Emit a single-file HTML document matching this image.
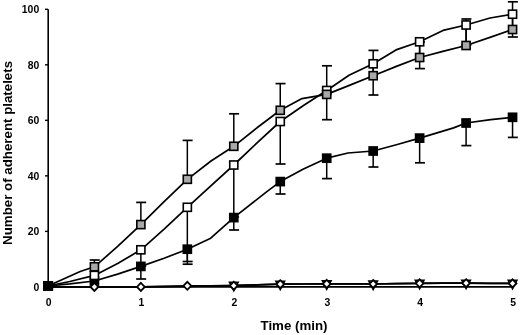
<!DOCTYPE html><html><head><meta charset="utf-8"><style>html,body{margin:0;padding:0;background:#fff;width:520px;height:335px;overflow:hidden}svg{display:block}text{font-family:"Liberation Sans",Arial,sans-serif;font-weight:bold;fill:#000}</style></head><body>
<svg width="520" height="335" viewBox="0 0 520 335">
<g stroke="#000" stroke-width="1.6" fill="none">
<path d="M48.2,9.3 V286.9 H512.6"/>
<path d="M45,286.90 H48" stroke-width="1.4"/>
<path d="M45,231.38 H48" stroke-width="1.4"/>
<path d="M45,175.86 H48" stroke-width="1.4"/>
<path d="M45,120.34 H48" stroke-width="1.4"/>
<path d="M45,64.82 H48" stroke-width="1.4"/>
<path d="M45,9.30 H48" stroke-width="1.4"/>
</g>
<g font-size="10.4" text-anchor="end">
<text x="39.2" y="290.60">0</text>
<text x="39.2" y="235.08">20</text>
<text x="39.2" y="179.56">40</text>
<text x="39.2" y="124.04">60</text>
<text x="39.2" y="68.52">80</text>
<text x="39.2" y="13.00">100</text>
</g>
<g font-size="10.4" text-anchor="middle">
<text x="48.55" y="306">0</text>
<text x="141.47" y="306">1</text>
<text x="234.39" y="306">2</text>
<text x="327.31" y="306">3</text>
<text x="420.23" y="306">4</text>
<text x="513.15" y="306">5</text>
</g>
<text x="294" y="329.5" font-size="13.3" text-anchor="middle">Time (min)</text>
<text transform="translate(12.3,152.9) rotate(-90)" font-size="13.3" text-anchor="middle">Number of adherent platelets</text>
<g stroke="#000" stroke-width="1.5" fill="none">
<path d="M94.41,266.80 V260.00"/><path d="M89.71,260.00 H99.71" stroke-width="1.7"/>
<path d="M140.87,224.60 V202.40"/><path d="M136.17,202.40 H146.17" stroke-width="1.7"/>
<path d="M187.33,179.30 V140.40"/><path d="M182.63,140.40 H192.63" stroke-width="1.7"/>
<path d="M233.79,146.30 V113.80"/><path d="M229.09,113.80 H239.09" stroke-width="1.7"/>
<path d="M280.25,110.30 V83.60"/><path d="M275.55,83.60 H285.55" stroke-width="1.7"/>
<path d="M326.71,94.40 V65.80"/><path d="M322.01,65.80 H332.01" stroke-width="1.7"/>
<path d="M373.17,75.70 V50.40"/><path d="M368.47,50.40 H378.47" stroke-width="1.7"/>
<path d="M419.63,57.50 V42.00"/><path d="M414.93,42.00 H424.93" stroke-width="1.7"/>
<path d="M466.09,45.50 V19.00"/><path d="M461.39,19.00 H471.39" stroke-width="1.7"/>
<path d="M512.55,29.50 V1.80"/><path d="M507.85,1.80 H517.85" stroke-width="1.7"/>
<path d="M140.87,249.80 V266.00"/><path d="M136.17,266.00 H146.17" stroke-width="1.7"/>
<path d="M187.33,207.30 V261.50"/><path d="M182.63,261.50 H192.63" stroke-width="1.7"/>
<path d="M233.79,165.00 V217.00"/><path d="M229.09,217.00 H239.09" stroke-width="1.7"/>
<path d="M280.25,121.50 V164.00"/><path d="M275.55,164.00 H285.55" stroke-width="1.7"/>
<path d="M326.71,90.50 V119.70"/><path d="M322.01,119.70 H332.01" stroke-width="1.7"/>
<path d="M373.17,63.80 V95.00"/><path d="M368.47,95.00 H378.47" stroke-width="1.7"/>
<path d="M419.63,41.80 V68.60"/><path d="M414.93,68.60 H424.93" stroke-width="1.7"/>
<path d="M466.09,25.00 V45.00"/><path d="M461.39,45.00 H471.39" stroke-width="1.7"/>
<path d="M512.55,14.20 V37.00"/><path d="M507.85,37.00 H517.85" stroke-width="1.7"/>
<path d="M140.87,266.40 V279.00"/><path d="M136.17,279.00 H146.17" stroke-width="1.7"/>
<path d="M187.33,249.20 V264.20"/><path d="M182.63,264.20 H192.63" stroke-width="1.7"/>
<path d="M233.79,217.60 V230.00"/><path d="M229.09,230.00 H239.09" stroke-width="1.7"/>
<path d="M280.25,181.60 V194.00"/><path d="M275.55,194.00 H285.55" stroke-width="1.7"/>
<path d="M326.71,158.20 V178.60"/><path d="M322.01,178.60 H332.01" stroke-width="1.7"/>
<path d="M373.17,151.00 V167.00"/><path d="M368.47,167.00 H378.47" stroke-width="1.7"/>
<path d="M419.63,138.10 V162.80"/><path d="M414.93,162.80 H424.93" stroke-width="1.7"/>
<path d="M466.09,123.00 V145.60"/><path d="M461.39,145.60 H471.39" stroke-width="1.7"/>
<path d="M512.55,117.30 V137.40"/><path d="M507.85,137.40 H517.85" stroke-width="1.7"/>
</g>
<g stroke="#000" stroke-width="1.70" fill="none" stroke-linejoin="round">
<path d="M47.95,286.90 L69.79,286.90 L94.41,286.90 L117.64,286.93 L140.87,286.90 L164.10,286.35 L187.33,285.80 L210.56,285.76 L233.79,285.70 L257.02,284.96 L280.25,284.20 L303.48,284.00 L326.71,283.90 L349.94,283.96 L373.17,284.00 L396.40,283.66 L419.63,283.30 L442.86,283.22 L466.09,283.20 L490.71,283.30 L512.55,283.40"/>
<path d="M47.95,286.90 L69.79,286.90 L94.41,286.90 L117.64,286.91 L140.87,286.90 L164.10,286.68 L187.33,286.40 L210.56,285.92 L233.79,285.40 L257.02,284.78 L280.25,284.20 L303.48,284.01 L326.71,283.90 L349.94,283.96 L373.17,284.00 L396.40,283.66 L419.63,283.30 L442.86,283.22 L466.09,283.20 L490.71,283.30 L512.55,283.40"/>
<path d="M47.95,286.00 L69.79,283.94 L94.41,281.00 L117.64,274.07 L140.87,266.40 L164.10,258.31 L187.33,249.20 L210.70,238.20 L233.79,217.60 L267.50,191.10 L280.25,181.60 L303.48,169.04 L326.71,158.20 L348.00,153.00 L373.17,151.00 L396.40,144.79 L419.63,138.10 L453.60,127.90 L466.09,123.00 L490.71,119.70 L512.55,117.30"/>
<path d="M47.95,286.00 L69.79,281.47 L94.41,275.40 L117.64,263.56 L140.87,249.80 L164.10,229.05 L187.33,207.30 L210.56,186.18 L233.79,165.00 L257.02,142.91 L280.25,121.50 L303.48,105.50 L326.71,90.50 L349.00,75.20 L373.17,63.80 L396.00,49.90 L419.63,41.80 L443.00,30.40 L466.09,25.00 L490.00,18.00 L512.55,14.20"/>
<path d="M47.95,286.00 L80.20,271.50 L94.41,266.80 L117.64,246.48 L140.87,224.60 L164.10,201.67 L187.33,179.30 L211.00,161.00 L233.79,146.30 L257.02,127.79 L280.25,110.30 L302.00,98.60 L326.71,94.40 L349.94,85.12 L373.17,75.70 L396.40,66.40 L419.63,57.50 L442.86,51.43 L466.09,45.50 L490.71,37.14 L512.55,29.50"/>
</g>
<g fill="#000" stroke="#000" stroke-width="1.60">
<rect x="43.90" y="281.95" width="8.10" height="8.10"/>
<rect x="90.36" y="276.95" width="8.10" height="8.10"/>
<rect x="136.82" y="262.35" width="8.10" height="8.10"/>
<rect x="183.28" y="245.15" width="8.10" height="8.10"/>
<rect x="229.74" y="213.55" width="8.10" height="8.10"/>
<rect x="276.20" y="177.55" width="8.10" height="8.10"/>
<rect x="322.66" y="154.15" width="8.10" height="8.10"/>
<rect x="369.12" y="146.95" width="8.10" height="8.10"/>
<rect x="415.58" y="134.05" width="8.10" height="8.10"/>
<rect x="462.04" y="118.95" width="8.10" height="8.10"/>
<rect x="508.50" y="113.25" width="8.10" height="8.10"/>
</g>
<g fill="#fff" stroke="#000" stroke-width="1.60">
<rect x="43.90" y="281.95" width="8.10" height="8.10"/>
<rect x="90.36" y="271.35" width="8.10" height="8.10"/>
<rect x="136.82" y="245.75" width="8.10" height="8.10"/>
<rect x="183.28" y="203.25" width="8.10" height="8.10"/>
<rect x="229.74" y="160.95" width="8.10" height="8.10"/>
<rect x="276.20" y="117.45" width="8.10" height="8.10"/>
<rect x="322.66" y="86.45" width="8.10" height="8.10"/>
<rect x="369.12" y="59.75" width="8.10" height="8.10"/>
<rect x="415.58" y="37.75" width="8.10" height="8.10"/>
<rect x="462.04" y="20.95" width="8.10" height="8.10"/>
<rect x="508.50" y="10.15" width="8.10" height="8.10"/>
</g>
<g fill="#a9a9a9" stroke="#000" stroke-width="1.60">
<rect x="43.90" y="281.95" width="8.10" height="8.10"/>
<rect x="90.36" y="262.75" width="8.10" height="8.10"/>
<rect x="136.82" y="220.55" width="8.10" height="8.10"/>
<rect x="183.28" y="175.25" width="8.10" height="8.10"/>
<rect x="229.74" y="142.25" width="8.10" height="8.10"/>
<rect x="276.20" y="106.25" width="8.10" height="8.10"/>
<rect x="322.66" y="90.35" width="8.10" height="8.10"/>
<rect x="369.12" y="71.65" width="8.10" height="8.10"/>
<rect x="415.58" y="53.45" width="8.10" height="8.10"/>
<rect x="462.04" y="41.45" width="8.10" height="8.10"/>
<rect x="508.50" y="25.45" width="8.10" height="8.10"/>
</g>
<g fill="#fff" stroke="#000" stroke-width="1.60" stroke-linejoin="miter">
<path d="M229.49,282.40 H238.09 L233.79,290.80 Z"/>
<path d="M275.95,281.20 H284.55 L280.25,289.60 Z"/>
<path d="M322.41,280.90 H331.01 L326.71,289.30 Z"/>
<path d="M368.87,281.00 H377.47 L373.17,289.40 Z"/>
<path d="M415.33,280.30 H423.93 L419.63,288.70 Z"/>
<path d="M461.79,280.20 H470.39 L466.09,288.60 Z"/>
<path d="M508.25,280.40 H516.85 L512.55,288.80 Z"/>
</g>
<g fill="#fff" stroke="#000" stroke-width="1.8">
<path d="M94.41,282.90 L98.31,286.90 L94.41,290.90 L90.51,286.90 Z"/>
<path d="M140.87,282.90 L144.77,286.90 L140.87,290.90 L136.97,286.90 Z"/>
<path d="M187.33,281.80 L191.23,285.80 L187.33,289.80 L183.43,285.80 Z"/>
<path d="M233.79,281.70 L237.69,285.70 L233.79,289.70 L229.89,285.70 Z"/>
<path d="M280.25,280.20 L284.15,284.20 L280.25,288.20 L276.35,284.20 Z"/>
<path d="M326.71,279.90 L330.61,283.90 L326.71,287.90 L322.81,283.90 Z"/>
<path d="M373.17,280.00 L377.07,284.00 L373.17,288.00 L369.27,284.00 Z"/>
<path d="M419.63,279.30 L423.53,283.30 L419.63,287.30 L415.73,283.30 Z"/>
<path d="M466.09,279.20 L469.99,283.20 L466.09,287.20 L462.19,283.20 Z"/>
<path d="M512.55,279.40 L516.45,283.40 L512.55,287.40 L508.65,283.40 Z"/>
</g>
<rect x="43.4" y="281.0" width="9.8" height="9.6" fill="#000"/>
</svg></body></html>
